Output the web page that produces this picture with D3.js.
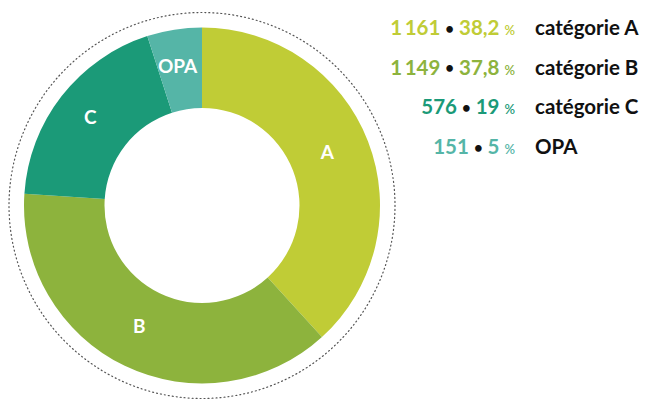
<!DOCTYPE html>
<html><head><meta charset="utf-8">
<script src="https://cdn.jsdelivr.net/npm/d3@7"></script>
<style>body{margin:0;background:#fff}svg{display:block}text{font-family:Lato,"Open Sans",sans-serif;font-weight:700}</style>
</head><body>
<svg id="c" width="646" height="401"></svg>
<script>
const categories = ["A","B","C","OPA"];
const legendNames = ["catégorie A","catégorie B","catégorie C","OPA"];
const values = [1161,1149,576,151];
const percents = ["38,2","37,8","19","5"];
const valueLabels = ["1\u2009161","1\u2009149","576","151"];
const colors = ["#c0cc36","#8db33d","#1b9a78","#55b5a7"];

const svg = d3.select("#c");
const cx = 202, cy = 205.5, rOuter = 178, rInner = 97.5;
const g = svg.append("g").attr("transform",`translate(${cx},${cy})`);

g.append("circle").attr("r",193).attr("fill","none").attr("stroke","#555")
  .attr("stroke-width",1.2).attr("stroke-dasharray","1 3").attr("stroke-linecap","round");

const pie = d3.pie().sort(null).value(d=>d);
const arcs = pie(values);
const arc = d3.arc().innerRadius(rInner).outerRadius(rOuter);
g.selectAll("path.s").data(arcs).enter().append("path").attr("class","s")
  .attr("d",arc).attr("fill",(d,i)=>colors[i]);

const labelArc = d3.arc().innerRadius(rInner).outerRadius(rOuter);
g.selectAll("text.l").data(arcs).enter().append("text").attr("class","l")
  .attr("transform",d=>{const c=labelArc.centroid(d);return `translate(${c[0]-3},${c[1]-3})`;})
  .attr("text-anchor","middle").attr("dy","0.35em").attr("fill","#fff")
  .attr("font-size",19).text((d,i)=>categories[i]);

const y = d3.scalePoint().domain(categories).range([35,154]);
const leg = svg.append("g");
categories.forEach((c,i)=>{
  const t = leg.append("text").attr("x",515).attr("y",y(c)).attr("text-anchor","end").attr("font-size",20.5);
  t.append("tspan").attr("fill",colors[i]).text(valueLabels[i]+" ");
  t.append("tspan").attr("fill","#111").attr("font-size",15).attr("dy",-1.5).text("•");
  t.append("tspan").attr("fill",colors[i]).attr("dy",1.5).text(" "+percents[i]+" ");
  t.append("tspan").attr("fill",colors[i]).attr("font-size",13).attr("font-weight",600).text("%");
  leg.append("text").attr("x",535).attr("y",y(c)).attr("font-size",20.5).attr("fill","#111").text(legendNames[i]);
});
</script>
</body></html>
